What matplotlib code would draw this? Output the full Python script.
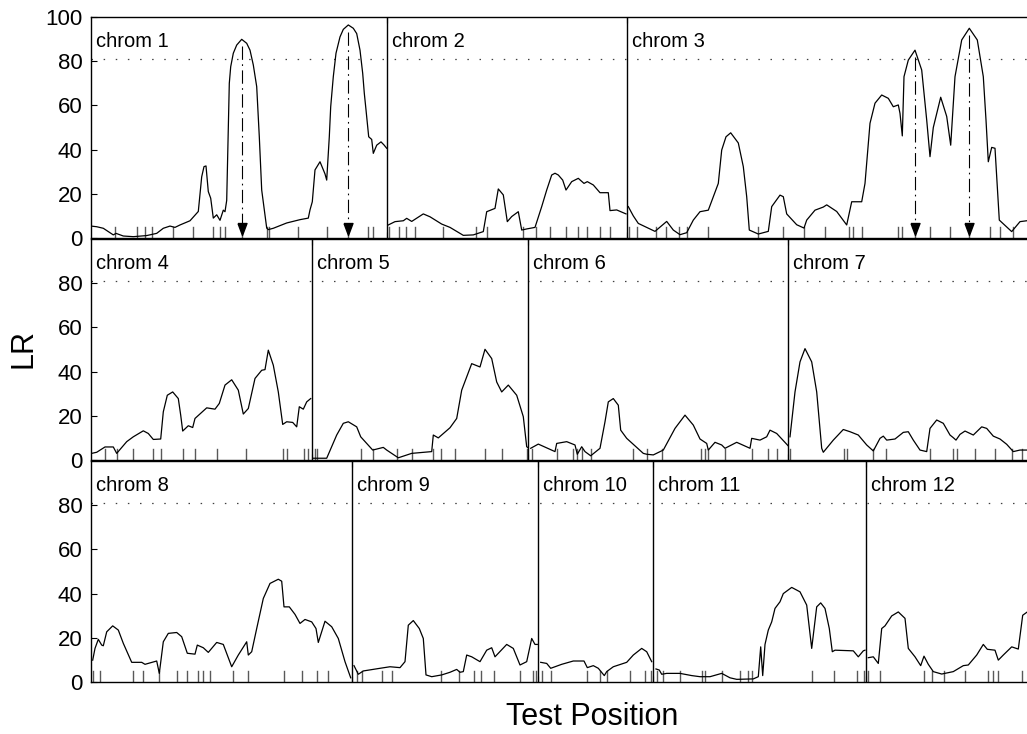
import matplotlib
matplotlib.use('Agg')
import matplotlib.pyplot as plt
import numpy as np

plt.rcParams['font.family'] = ['Liberation Sans', 'DejaVu Sans']

# ---------------- data ----------------
threshold = 81
chrom_len = [296, 240, 400, 221, 216, 260, 239, 261, 186, 115, 213, 161]
rows = [[1, 2, 3], [4, 5, 6, 7], [8, 9, 10, 11, 12]]
row_yticks = [[0, 20, 40, 60, 80, 100], [0, 20, 40, 60, 80], [0, 20, 40, 60, 80]]

chr1_pos = [0, 5.7, 12.3, 22.3, 25, 32.3, 42.3, 55.7, 65.7, 72.3, 79, 84, 89, 99, 107.3, 110.7, 113, 115,
            117.3, 119.7, 122.3, 125.7, 129, 132.3, 134, 135.7, 138.3, 139.7, 142.3, 145.7, 150.7, 155.7,
            159, 162.3, 165.7, 168.3, 170.7, 175.7, 177.3, 182.3, 195.7, 209, 217.3, 219, 221.3, 224, 229,
            234, 235.7, 238.3, 239.7, 242.3, 245, 249, 252.3, 257.3, 262.3, 265.7, 269, 271.7, 273.3, 275,
            277.7, 280.7, 282.3, 285.7, 290, 293, 295.7]
chr1_lr = [5.4, 5.1, 4.4, 1.4, 2.1, 0.9, 0.6, 1.1, 2.1, 4.4, 5.4, 4.8, 5.9, 7.8, 12, 27.7, 32.3, 32.6,
           21, 18, 9, 10.5, 8, 12.6, 11.9, 17, 70, 77.5, 83.6, 87.3, 89.9, 88.1,
           85, 78.3, 68.5, 45.8, 21.7, 4.5, 3.8, 4.4, 6.8, 8.3, 9, 12.7, 16.4, 30.8, 34.5,
           29, 26.2, 45.8, 59.4, 73, 83.6, 91, 94.4, 96.4, 94.9, 92.5, 85, 74.5, 65.5, 58,
           45.8, 44.6, 38.3, 42, 43.5, 42.1, 40.6]
chr1_mk = [24, 45.7, 54, 60.7, 82.3, 101.7, 122.3, 129, 134, 150.7, 175.7, 178.3, 207.3, 235.7, 257.3,
           277.3, 281.7]

chr2_pos = [1.3, 8, 16.3, 19.7, 24.7, 36.3, 43, 54.7, 63, 76.3, 86.3, 96.3, 99.7, 108, 111.3, 116.3,
            120.3, 124.7, 131.3, 134.7, 139.7, 148, 154.7, 159.7, 164.7, 168, 171.3, 175.7, 179, 184.7,
            191.3, 197, 200.3, 206.3, 213, 221.3, 223, 229.7, 239]
chr2_lr = [5.9, 7.4, 7.8, 8.9, 7.5, 10.9, 9.6, 6.3, 4.8, 1.2, 1.4, 2.9, 11.9, 13.4, 22.2, 19.5,
           7.4, 9.7, 11.9, 3.6, 4.1, 4.8, 14.2, 21.7, 28.5, 29.3, 28.5, 26.2, 21.7, 25.5,
           27, 24.7, 25.5, 24, 20.5, 20.5, 12.4, 12.7, 10.9]
chr2_mk = [2.3, 12.3, 19, 28, 56.3, 88.7, 99.7, 136.3, 148.7, 163, 179, 190.7, 199.7, 213, 223]

chr3_pos = [1.3, 6.3, 11.3, 28, 39.7, 46.3, 53, 59.7, 66.3, 73, 81.3, 91.3, 94.7, 99, 103.7, 111.3,
            116.3, 119.7, 122.3, 131.3, 141.3, 144.7, 153, 156.3, 159.7, 169.7, 177, 179.7, 188, 196.3,
            199.7, 209.7, 219.7, 224.7, 234.7, 238, 243, 248, 254.7, 261.3, 266.3, 271.3, 273, 275.3,
            277, 281.3, 288, 294.7, 299.7, 303, 306.3, 313.7, 319.7, 323.7, 328, 334.7, 342.3, 350.3,
            356.3, 359, 361.3, 364.7, 368, 372.3, 384.7, 393, 399.7]
chr3_lr = [14.2, 10, 6.6, 3, 7.5, 3.6, 1.5, 2.4, 8.1, 11.9, 12.6, 24.7, 39.8, 45.8, 47.6, 43,
           32.3, 18.7, 3.6, 1.8, 3, 14.2, 19.4, 18.7, 10.9, 6, 4.5, 8.1, 12.6, 14,
           15, 12, 5.9, 16.4, 16.4, 24.7, 51.9, 61, 64.7, 63.2, 59.4, 60.2, 56.4, 46.2,
           73, 80.5, 85, 76, 53.4, 36.8, 50, 63.7, 55, 42, 73, 89.6, 94.9, 89.6,
           73, 53.4, 34.5, 41, 40.6, 8.1, 2.9, 7.4, 7.8]
chr3_mk = [2.3, 10.3, 29, 38.7, 52.3, 59.7, 81.3, 131.3, 156.3, 177, 198, 222.3, 225.7, 234.7, 270.7,
           274.7, 288, 303, 323, 342.3, 363, 373, 386.3]

chr4_pos = [0.7, 5.7, 14, 22.3, 25.7, 35.7, 42.3, 52.3, 57.3, 62.3, 69.7, 72.3, 76.3, 81.7, 87.3, 89.7,
            91.7, 97.3, 101.7, 104, 115.7, 124, 128.3, 134, 140.7, 147.3, 152.3, 157.3, 164, 170.7,
            174, 177.3, 182.3, 187.3, 191.7, 195.7, 201.7, 205.7, 208.3, 212.3, 215.7, 219.7]
chr4_lr = [3, 3.5, 5.9, 5.9, 3, 8.3, 10.5, 13.2, 12, 9.3, 9.5, 21.8, 29.3, 30.8, 27.8, 20.3,
           13.1, 15.5, 14.7, 18.8, 23.6, 23, 25.6, 33.9, 36.3, 31.6, 20.8, 23.3, 36.9, 40.6,
           40.9, 49.7, 42.9, 30.8, 16.1, 17.3, 17, 15, 24.1, 23, 26.3, 27.8]
chr4_mk = [14, 25.7, 42.3, 62.3, 69.7, 91.7, 104, 125.7, 155, 191.7, 196.3, 213, 217.3]

chr5_pos = [1.3, 14.7, 24.7, 31.3, 36.3, 44.7, 48.7, 60.7, 71.3, 74.7, 86.3, 99.7, 119.7, 121.3,
            126.3, 138, 144.7, 149.7, 159.7, 168, 173, 179.7, 184.7, 189.7, 196.3, 204.7, 211.3,
            214.7, 216]
chr5_lr = [0.8, 0.8, 11.3, 16.6, 17.3, 15, 10.5, 4.5, 5.7, 4.5, 1, 3, 3.8, 11.3,
           10, 14.6, 18.8, 31.6, 43.6, 42.1, 50.1, 45.9, 35.3, 30.8, 33.9, 29.3, 19.6,
           6, 5.6]
chr5_mk = [3, 4.7, 48.7, 60.7, 84.7, 99.7, 121.3, 129, 143, 173, 189.7, 214.7]

chr6_pos = [2.7, 10.3, 27, 28.7, 38.7, 47, 49.3, 53.7, 57, 62.7, 72, 77, 80.3, 85.3, 90.3, 92.7,
            98.7, 115.3, 118.7, 125.3, 135.3, 147, 157, 165.3, 172, 178.7, 180.3, 187, 193.7, 197,
            208.7, 222, 223.7, 232, 238.7, 242, 248.7, 260]
chr6_lr = [5.3, 7.2, 3.8, 7.5, 8.3, 6.8, 2.6, 6, 3.8, 1.9, 5.3, 17.3, 26.3, 27.8, 24.8, 13.5,
           9.8, 3, 2.6, 2.3, 4.5, 14.3, 20.3, 15.8, 9.5, 7.5, 4.5, 8, 6.8, 5.3,
           8, 5.3, 9.8, 9, 10.5, 13.5, 12, 6.5]
chr6_mk = [3.7, 28.7, 44.7, 48.7, 53.7, 62.7, 105.3, 118.7, 133.7, 172.7, 177, 180.3, 197, 223.7,
           240.3, 248.7]

chr7_pos = [2, 7, 12, 17, 23.7, 28.7, 33.7, 35.3, 45.3, 55.3, 62, 70.3, 78.7, 85.3, 92, 95.3, 98.7,
            107, 115.3, 120.3, 125.3, 132, 138.7, 142, 148.7, 155.3, 162, 165.3, 168, 172, 177,
            185.3, 193.7, 198.7, 205.3, 212, 218.7, 225.3, 232, 238.7]
chr7_lr = [10.5, 30.8, 44.4, 50.4, 44.4, 30.8, 5.3, 3.5, 9, 13.8, 12.8, 11.3, 6.8, 4.1, 9.8, 10.8, 9,
           9.5, 12.5, 12.8, 9, 4.5, 3.8, 14.3, 18.1, 16.6, 11.3, 10.1, 9, 11.6, 13.1,
           11.3, 15, 14.3, 10.8, 9.5, 7.1, 3.8, 4.5, 4.5]
chr7_mk = [2, 56, 58.7, 85.3, 98, 142, 165.3, 168.7, 187, 207, 223.7, 233.7]

chr8_pos = [1.7, 4, 7.3, 10.7, 12.3, 15.7, 21.7, 27.3, 32.3, 40.7, 50.7, 54, 65.7, 68.3, 72.3, 77.3,
            85.7, 90.7, 96.3, 104, 106.3, 112.3, 117.3, 125.7, 132.3, 140.7, 147.3, 155.7, 157.3,
            160.7, 165.7, 172.3, 179, 187.3, 190.7, 193, 198.3, 204, 209, 214, 220.7, 225, 227.3,
            234, 240.7, 247.3, 254, 259.7]
chr8_lr = [9.9, 15.2, 19.3, 16.7, 16.4, 22.7, 25.4, 23.5, 17.5, 8.9, 8.9, 8, 9.5, 3.9, 18.2, 22,
           22.4, 20.5, 13, 12.6, 16.7, 15.5, 13.4, 17.9, 17, 6.9, 12.2, 18.2, 12.2,
           13.7, 24.2, 37.8, 44.6, 46.5, 45.6, 34, 34, 30.6, 26.5, 28.3, 27.2, 24.2, 17.9,
           27.5, 25, 19.7, 9.2, 1.9]
chr8_mk = [1.7, 9, 42.3, 52.3, 68.3, 86.3, 96.3, 107.3, 111.7, 119, 141.7, 157.3, 193, 210.7, 226.3,
           237.3]

chr9_pos = [2, 6.3, 11.3, 28, 38, 48, 53, 56.3, 61.3, 67.3, 71.3, 74, 79.7, 89.7, 98, 104.7, 108,
            111.3, 114.7, 119.7, 128, 134.7, 139.7, 143, 154.7, 161.3, 168, 174.7, 179.7, 183, 185.3]
chr9_lr = [7.4, 3.5, 5, 6.2, 6.9, 6.5, 9.2, 25.7, 27.8, 24.2, 19.7, 3.2, 2.4, 3.2, 4.4, 5.7, 4.4,
           4.7, 12.2, 11.4, 9.2, 14.4, 15.5, 11.4, 17, 15.2, 7.7, 9.2, 19.7, 17, 17]
chr9_mk = [4.7, 9.7, 29.7, 39.7, 88.7, 107, 122.3, 129, 142.3, 168, 180.7, 184]

chr10_pos = [2.7, 8.7, 12.7, 23.7, 35.3, 46, 49.3, 55.3, 60.3, 66.3, 68.7, 75.3, 88.7, 95.3, 103.7,
             108.7, 113.7]
chr10_lr = [8.9, 8.4, 6.2, 8, 9.5, 9.5, 6.5, 7.4, 6.2, 2.9, 4.7, 6.9, 8.9, 12.2, 15.2,
            13.7, 9.2]
chr10_mk = [3.7, 12.7, 48.7, 62, 68.7, 92, 107, 112.7]

chr11_pos = [3, 6.3, 8.7, 13.7, 27, 38.7, 47, 57, 68.7, 77, 83.7, 100.3, 105.3, 107.7, 109.7, 112,
             115.3, 118.7, 122, 127, 130.3, 138.7, 147, 153.7, 158.7, 163.7, 167.7, 172, 176.3,
             179.3, 182, 200.3, 205.3, 210.3, 212]
chr11_lr = [5.9, 5.4, 3.5, 3.9, 3.9, 2.9, 2.4, 2.4, 3.9, 1.9, 1.2, 1.4, 2.4, 15.9, 2.9, 17,
            23.5, 27.2, 33.3, 36.3, 40, 42.8, 40.8, 34.8, 15.2, 34, 35.8, 33.3, 24.2,
            13.7, 14.4, 14.1, 11.4, 14.1, 14.4]
chr11_mk = [3.7, 9.7, 27, 48.7, 52, 68.7, 87, 94.7, 98.7, 158.7, 181.3, 204.3, 211]

chr12_pos = [2.3, 7.3, 12.3, 15.7, 19, 25.7, 32.3, 39, 42.3, 49, 54.7, 58, 62.3, 67.3, 75.7, 87.3,
             97.3, 102.3, 110.7, 117.3, 121.3, 129, 132.3, 137.3, 145.7, 152.3, 156.7, 161.3]
chr12_lr = [11, 11.4, 8.4, 24.2, 25.4, 29.9, 31.7, 28.8, 15.2, 11.4, 7.4, 11.7, 8, 4.7, 3.6, 4.7,
            7.4, 7.7, 12.2, 17, 14.8, 14.4, 9.9, 12.2, 15.9, 14.9, 30.2, 31.7]
chr12_mk = [2.3, 14, 58, 66.3, 78.3, 99, 122.3, 126.7, 131.7, 155.7]

qtl_chrom = [1, 1, 3, 3]
qtl_pos = [150.7, 257.3, 288, 342.3]

chrom_pos = [chr1_pos, chr2_pos, chr3_pos, chr4_pos, chr5_pos, chr6_pos, chr7_pos, chr8_pos,
             chr9_pos, chr10_pos, chr11_pos, chr12_pos]
chrom_lr = [chr1_lr, chr2_lr, chr3_lr, chr4_lr, chr5_lr, chr6_lr, chr7_lr, chr8_lr,
            chr9_lr, chr10_lr, chr11_lr, chr12_lr]
chrom_mk = [chr1_mk, chr2_mk, chr3_mk, chr4_mk, chr5_mk, chr6_mk, chr7_mk, chr8_mk,
            chr9_mk, chr10_mk, chr11_mk, chr12_mk]

# ---------------- figure ----------------
W, H = 1027, 734
fig = plt.figure(figsize=(W / 100, H / 100), dpi=100)
row_px = [(17, 238), (239, 460), (461, 682)]
left_px, right_px = 91, 1027

arrow_head = [(-0.375, 0.5), (0.375, 0.5), (0, -0.5), (-0.375, 0.5)]

for r, chroms in enumerate(rows):
    top, bot = row_px[r]
    ax = fig.add_axes([left_px / W, 1 - bot / H, (right_px - left_px) / W, (bot - top) / H])
    total = sum(chrom_len[c - 1] for c in chroms)
    ax.set_xlim(0, total)
    ax.set_ylim(0, 100)
    start = 0
    bounds = []
    for c in chroms:
        i = c - 1
        xs = np.array(chrom_pos[i]) + start
        ax.plot(xs, chrom_lr[i], color='black', lw=0.9, zorder=3)
        for m in chrom_mk[i]:
            ax.plot([start + m, start + m], [0, 5], color='0.35', lw=1.0, zorder=2)
        ax.text(start + 5, 86.3, f'chrom {c}', fontsize=14.5, ha='left', va='baseline', zorder=5)
        for qc, qp in zip(qtl_chrom, qtl_pos):
            if qc == c:
                peak = np.interp(qp, chrom_pos[i], chrom_lr[i])
                ax.plot([start + qp, start + qp], [peak - 3, 5], color='black', lw=0.8,
                        dashes=(12, 4, 1.5, 4), zorder=4)
                ax.plot([start + qp], [4.1], marker=arrow_head, markersize=8.6,
                        color='black', zorder=4, linestyle='none')
        start += chrom_len[i]
        if start < total:
            bounds.append(start)
            ax.axvline(start, color='black', lw=1.0, zorder=4)
    ax.axhline(threshold, color='0.25', lw=0.9, dashes=(1.2, 8.5), zorder=1)
    ax.set_yticks(row_yticks[r])
    ax.set_xticks(bounds)
    ax.set_xticklabels([])
    ax.tick_params(axis='both', direction='in', length=4, labelsize=16, pad=6, top=True)
    ax.tick_params(axis='x', bottom=True, top=True)
    ax.spines['right'].set_visible(False)
    for s in ['left', 'bottom', 'top']:
        ax.spines[s].set_linewidth(1.0)

fig.text(23 / W, 1 - 349 / H, 'LR', fontsize=22, rotation=90, ha='center', va='center')
fig.text(592 / W, 1 - 717 / H, 'Test Position', fontsize=22, ha='center', va='center')

fig.savefig('out.png', dpi=100)
